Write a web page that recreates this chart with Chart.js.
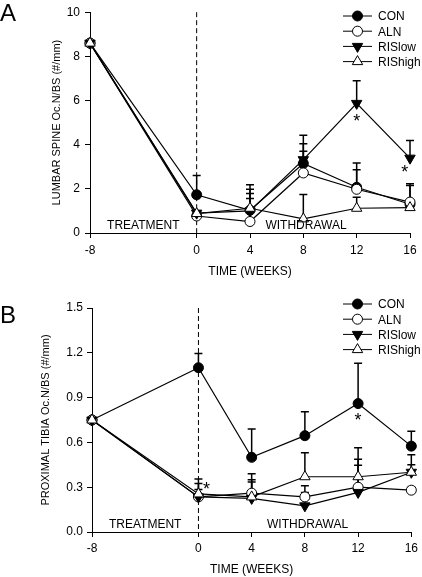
<!DOCTYPE html>
<html>
<head>
<meta charset="utf-8">
<script src="https://cdn.jsdelivr.net/npm/chart.js@4.4.0/dist/chart.umd.min.js"></script>
<style>
html, body { margin: 0; padding: 0; background: #fff; }
#wrap { position: relative; width: 422px; height: 577px; }
#chartA { position: absolute; left: 0; top: 0; }
#chartB { position: absolute; left: 0; top: 288px; }
</style>
</head>
<body>
<div id="wrap">
  <canvas id="chartA" width="422" height="288"></canvas>
  <canvas id="chartB" width="422" height="289"></canvas>
</div>
<script>
const weeks = [-8, 0, 4, 8, 12, 16];
const xTicks = [-8, 0, 4, 8, 12, 16];
const seriesNames = ['CON', 'ALN', 'RISlow', 'RIShigh'];

// panel A - lumbar spine
const conA = [8.6, 1.73, 1.03, 3.15, 2.07, 1.3];
const alnA = [8.6, 0.77, 0.52, 2.72, 1.98, 1.4];
const risLowA = [8.6, 0.9, 1.0, 3.32, 5.87, 3.39];
const risHighA = [8.6, 0.88, 1.12, 0.64, 1.12, 1.15];
const conErrA = [0, 0.87, 1.15, 0.89, 0.79, 0.93];
const alnErrA = [0, 0.1, 1.04, 0.98, 1.19, 0.75];
const risLowErrA = [0, 0.1, 0.98, 1.11, 1.02, 0.8];
const risHighErrA = [0, 0.1, 0.67, 1.1, 0.5, 0.1];
const starsA = [[12, 5.2], [15.6, 2.9]];

// panel B - proximal tibia
const conB = [0.75, 1.10, 0.50, 0.645, 0.86, 0.575];
const alnB = [0.75, 0.235, 0.26, 0.235, 0.30, 0.28];
const risLowB = [0.75, 0.235, 0.225, 0.175, 0.265, 0.40];
const risHighB = [0.75, 0.255, 0.235, 0.37, 0.37, 0.40];
const conErrB = [0, 0.095, 0.19, 0.16, 0.27, 0.10];
const alnErrB = [0, 0.12, 0.13, 0.075, 0.187, 0.02];
const risLowErrB = [0, 0.05, 0.125, 0.09, 0.182, 0.05];
const risHighErrB = [0, 0.07, 0.1, 0.16, 0.195, 0.118];
const starsB = [[0.6, 0.31], [12, 0.77]];

const markers = [
  { style: 'circle', fill: '#000', rot: 0, r: 5 },
  { style: 'circle', fill: '#fff', rot: 0, r: 5 },
  { style: 'triangle', fill: '#000', rot: 180, r: 6 },
  { style: 'triangle', fill: '#fff', rot: 0, r: 6 }
];

function drawMarker(ctx, m, x, y) {
  ctx.save();
  ctx.fillStyle = m.fill;
  ctx.strokeStyle = '#000';
  ctx.lineWidth = 1;
  ctx.beginPath();
  if (m.style === 'circle') {
    ctx.arc(x, y, m.r, 0, Math.PI * 2);
  } else {
    let rad = m.rot * Math.PI / 180;
    for (let i = 0; i < 3; i++) {
      const px = x + Math.sin(rad) * m.r;
      const py = y - Math.cos(rad) * m.r;
      if (i === 0) ctx.moveTo(px, py); else ctx.lineTo(px, py);
      rad += 2 * Math.PI / 3;
    }
    ctx.closePath();
  }
  ctx.fill();
  ctx.stroke();
  ctx.restore();
}

const errorBars = {
  id: 'errorBars',
  beforeDatasetsDraw(chart) {
    const ctx = chart.ctx;
    const xs = chart.scales.x, ys = chart.scales.y;
    ctx.save();
    ctx.strokeStyle = '#000';
    ctx.lineWidth = 1.5;
    chart.data.datasets.forEach(ds => {
      ds.data.forEach((v, i) => {
        const e = ds.errors[i];
        if (!e) return;
        const x = xs.getPixelForValue(weeks[i]);
        const y0 = ys.getPixelForValue(v);
        const y1 = ys.getPixelForValue(v + e);
        ctx.beginPath();
        ctx.moveTo(x, y0);
        ctx.lineTo(x, y1);
        ctx.moveTo(x - 4, y1);
        ctx.lineTo(x + 4, y1);
        ctx.stroke();
      });
    });
    ctx.restore();
  }
};

const extras = {
  id: 'extras',
  beforeDatasetsDraw(chart) {
    const ctx = chart.ctx;
    const area = chart.chartArea;
    const x0 = chart.scales.x.getPixelForValue(0);
    ctx.save();
    ctx.strokeStyle = '#000';
    ctx.lineWidth = 1;
    ctx.setLineDash([5, 3]);
    ctx.beginPath();
    ctx.moveTo(x0, area.top);
    ctx.lineTo(x0, area.bottom);
    ctx.stroke();
    ctx.restore();
  },
  afterDraw(chart) {
    const ctx = chart.ctx;
    const o = chart.options.plugins.extras;
    const area = chart.chartArea;
    const xs = chart.scales.x, ys = chart.scales.y;
    ctx.save();
    ctx.fillStyle = '#000';
    ctx.textBaseline = 'alphabetic';

    // panel letter
    ctx.font = '24px "Liberation Sans", Arial, sans-serif';
    ctx.textAlign = 'left';
    ctx.fillText(o.letter, 0, o.letterY);

    // phase labels
    ctx.font = '12px "Liberation Sans", Arial, sans-serif';
    ctx.textAlign = 'center';
    ctx.fillText('TREATMENT', xs.getPixelForValue(-4), area.bottom - 4);
    ctx.fillText('WITHDRAWAL', xs.getPixelForValue(8.2), area.bottom - 4);

    // significance marks
    ctx.font = '18px "Liberation Sans", Arial, sans-serif';
    ctx.textBaseline = 'middle';
    o.stars.forEach(s => {
      ctx.fillText('*', xs.getPixelForValue(s[0]), ys.getPixelForValue(s[1]) + 4);
    });

    // legend
    ctx.font = '12px "Liberation Sans", Arial, sans-serif';
    ctx.textAlign = 'left';
    chart.data.datasets.forEach((ds, i) => {
      const y = 16 + i * 15.2;
      ctx.strokeStyle = '#000';
      ctx.lineWidth = 1;
      ctx.beginPath();
      ctx.moveTo(343, y);
      ctx.lineTo(372, y);
      ctx.stroke();
      drawMarker(ctx, markers[i], 357.5, y);
      ctx.fillText(ds.label, 378, y + 1);
    });
    ctx.restore();
  }
};

function makePanel(id, series, errs, p) {
  const datasets = series.map((vals, i) => ({
    label: seriesNames[i],
    data: vals,
    errors: errs[i],
    borderColor: '#000',
    borderWidth: 1.2,
    pointStyle: markers[i].style,
    pointRotation: markers[i].rot,
    pointRadius: markers[i].r,
    pointBackgroundColor: markers[i].fill,
    pointBorderColor: '#000',
    pointBorderWidth: 1,
    order: 3 - i,
    clip: false
  }));

  return new Chart(document.getElementById(id), {
    type: 'line',
    data: { labels: weeks, datasets: datasets },
    plugins: [errorBars, extras],
    options: {
      responsive: false,
      animation: false,
      layout: { padding: { left: 0, right: p.right, top: p.top, bottom: 0 } },
      plugins: {
        legend: { display: false },
        tooltip: { enabled: false },
        extras: { letter: p.letter, letterY: p.letterY, stars: p.stars }
      },
      scales: {
        x: {
          type: 'linear',
          min: -8,
          max: 16,
          afterBuildTicks: s => { s.ticks = xTicks.map(v => ({ value: v })); },
          afterFit: s => { s.height = p.xHeight; },
          grid: { drawOnChartArea: false, drawTicks: true, tickLength: 5, color: '#000' },
          border: { color: '#000', width: 1 },
          ticks: { color: '#000', padding: p.xPad, maxRotation: 0, font: { family: '"Liberation Sans", Arial, sans-serif', size: 12 } },
          title: { display: true, text: 'TIME (WEEKS)', color: '#000', padding: { top: 0, bottom: p.xTitlePad }, font: { family: '"Liberation Sans", Arial, sans-serif', size: 12 } }
        },
        y: {
          min: 0,
          max: p.yMax,
          afterFit: s => { s.width = p.yWidth; },
          afterBuildTicks: s => { s.ticks = p.yTicks.map(v => ({ value: v })); },
          grid: { drawOnChartArea: false, drawTicks: true, tickLength: 5, color: '#000' },
          border: { color: '#000', width: 1 },
          ticks: { color: '#000', padding: p.yPad, callback: v => v.toFixed(p.dec), font: { family: '"Liberation Sans", Arial, sans-serif', size: 12 } },
          title: { display: true, text: p.yTitle, color: '#000', padding: { top: p.yTitlePad, bottom: 0 }, font: { family: '"Liberation Sans", Arial, sans-serif', size: 11 } }
        }
      }
    }
  });
}

const yTicksA = [0, 2, 4, 6, 8, 10];
const yTicksB = [0, 0.3, 0.6, 0.9, 1.2, 1.5];

makePanel('chartA', [conA, alnA, risLowA, risHighA], [conErrA, alnErrA, risLowErrA, risHighErrA], {
  letter: 'A', letterY: 21, stars: starsA,
  right: 12, top: 9, xHeight: 55, xPad: 5, xTitlePad: 9,
  yMax: 10, yTicks: yTicksA, dec: 0, yWidth: 90, yPad: 5, yTitlePad: 50,
  yTitle: 'LUMBAR SPINE Oc.N/BS (#/mm)'
});

makePanel('chartB', [conB, alnB, risLowB, risHighB], [conErrB, alnErrB, risLowErrB, risHighErrB], {
  letter: 'B', letterY: 35, stars: starsB,
  right: 10, top: 20, xHeight: 45, xPad: 4, xTitlePad: 0,
  yMax: 1.5, yTicks: yTicksB, dec: 1, yWidth: 92, yPad: 4, yTitlePad: 39,
  yTitle: 'PROXIMAL TIBIA Oc.N/BS (#/mm)'
});
</script>
</body>
</html>
